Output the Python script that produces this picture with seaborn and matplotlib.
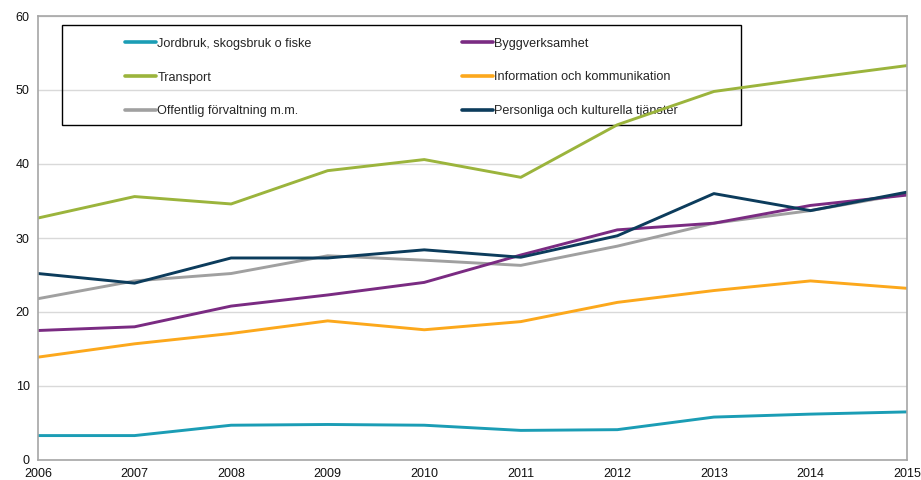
import pandas as pd
import seaborn as sns
import matplotlib.pyplot as plt
from matplotlib.patches import Rectangle

years = [2006, 2007, 2008, 2009, 2010, 2011, 2012, 2013, 2014, 2015]

jordbruk = [3.3, 3.3, 4.7, 4.8, 4.7, 4.0, 4.1, 5.8, 6.2, 6.5]
transport = [32.7, 35.6, 34.6, 39.1, 40.6, 38.2, 45.3, 49.8, 51.6, 53.3]
offentlig = [21.8, 24.2, 25.2, 27.6, 27.0, 26.3, 28.9, 32.0, 33.7, 36.0]
bygg = [17.5, 18.0, 20.8, 22.3, 24.0, 27.7, 31.1, 32.0, 34.4, 35.8]
information = [13.9, 15.7, 17.1, 18.8, 17.6, 18.7, 21.3, 22.9, 24.2, 23.2]
personliga = [25.2, 23.9, 27.3, 27.3, 28.4, 27.4, 30.3, 36.0, 33.7, 36.2]

# legend order (column-wise, two columns)
series = {
    "Jordbruk, skogsbruk o fiske": jordbruk,
    "Transport": transport,
    "Offentlig förvaltning m.m.": offentlig,
    "Byggverksamhet": bygg,
    "Information och kommunikation": information,
    "Personliga och kulturella tjänster": personliga,
}
colors = {
    "Jordbruk, skogsbruk o fiske": "#1b9db5",
    "Transport": "#9bb43c",
    "Offentlig förvaltning m.m.": "#a0a0a0",
    "Byggverksamhet": "#7a2b82",
    "Information och kommunikation": "#fca81c",
    "Personliga och kulturella tjänster": "#0c3c5c",
}

df = pd.DataFrame([
    {"år": y, "värde": v, "serie": name}
    for name, vals in series.items()
    for y, v in zip(years, vals)
])

sns.set_style("white")
plt.rcParams['font.family'] = ['Liberation Sans', 'DejaVu Sans']

fig = plt.figure(figsize=(9.21, 4.8), dpi=100)
ax = fig.add_axes([38 / 921, 20 / 480, 869 / 921, 444 / 480])

sns.lineplot(data=df, x="år", y="värde", hue="serie", hue_order=list(series),
             palette=colors, linewidth=2.1, ax=ax)

ax.set_xlim(2006, 2015)
ax.set_ylim(0, 60)
ax.set_xticks(years)
ax.set_yticks(range(0, 61, 10))
ax.set_xlabel("")
ax.set_ylabel("")
ax.yaxis.grid(True, color="#d9d9d9", linewidth=1)
ax.set_axisbelow(True)
for s in ax.spines.values():
    s.set_color("#a6a6a6")
    s.set_linewidth(1.2)
ax.tick_params(axis="both", length=4, width=1, color="#a6a6a6",
               labelsize=9, labelcolor="#111111", direction="out")
ax.tick_params(axis="x", pad=2)
ax.tick_params(axis="y", pad=2)
ax.set_xticklabels([str(y) for y in years])

# legend box (transparent, data lines run across it)
bx0, by0 = (62 - 38) / 869, (460 - 125) / 444
bw, bh = (741 - 62) / 869, 100 / 444
ax.add_patch(Rectangle((bx0, by0), bw, bh, transform=ax.transAxes,
                       fill=False, edgecolor="black", linewidth=1, zorder=1.5))
handles, labels = ax.get_legend_handles_labels()
shift = 2.5 / 444
leg = ax.legend(handles, labels, ncol=2, loc="center",
                bbox_to_anchor=(bx0, by0 - shift, bw, bh), frameon=False,
                fontsize=9.1, handlelength=2.45, handletextpad=0.12,
                columnspacing=11.9, labelspacing=1.72)
leg.set_zorder(1.8)
for line in leg.get_lines():
    line.set_linewidth(2.6)

plt.savefig("out.png", dpi=100)
plt.close()
